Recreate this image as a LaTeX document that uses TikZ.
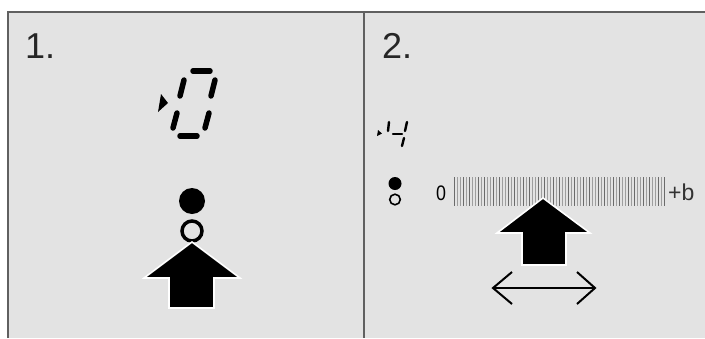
\documentclass[tikz,border=0pt]{standalone}
\usepackage{fontspec}
\setmainfont{Liberation Sans}
\definecolor{panelbg}{HTML}{E3E3E3}
\definecolor{framec}{HTML}{606060}
\begin{document}
\begin{tikzpicture}[x=1pt,y=-1pt,
  seg/.style={line width=5.5pt,line cap=round},
  smallseg/.style={line width=2.4pt,line cap=round},
  bigarrow/.style={fill=black,draw=white,line width=1.6pt,line join=miter},
  frameline/.style={draw=framec,line width=2pt},
  lbl/.style={anchor=base west,inner sep=0pt,font=\fontsize{36}{36}\selectfont,text=black!85}]
\useasboundingbox (0,0) rectangle (705,338);
\fill[white] (0,0) rectangle (705,338);
\fill[panelbg] (8,12) rectangle (705,338);
\draw[frameline] (8,338) -- (8,12) -- (705,12);
\draw[frameline] (364,12) -- (364,338);
% labels
\node[lbl] (l1) at (25,58) {1.};
\node[lbl] (l2) at (382,58) {2.};
% big seven-segment 0
\draw[seg] (193,71) -- (210,71);
\draw[seg] (184,80) -- (180,96);
\draw[seg] (215,80) -- (211,96);
\draw[seg] (177,113) -- (173,128);
\draw[seg] (209,113) -- (205,128);
\draw[seg] (180,136) -- (197,136);
\fill (161,94) -- (168,103) -- (158,112) -- cycle;
% panel 1 circles and arrow
\fill (192,201) circle (13);
\draw[line width=3.5pt] (192,231) circle (10);
\draw[bigarrow] (192,242) -- (240,278) -- (214,278) -- (214,308) -- (169,308) -- (169,278) -- (144,278) -- cycle;
% small seven-segment 4
\draw[smallseg] (389,122) -- (388,131);
\draw[smallseg] (407,122) -- (405,131);
\draw[smallseg] (393,134) -- (402,134);
\draw[smallseg] (404,138) -- (402,146);
\fill (378,130) -- (382,133.5) -- (377,136) -- cycle;
% panel 2 circles
\fill (395,183.5) circle (6.5);
\draw[line width=1.6pt] (395,199.5) circle (5.3);
% scale
\node[anchor=base west,inner sep=0pt,font=\fontsize{21}{21}\selectfont,xscale=0.85] (zero) at (436,200) {0};
\foreach \i in {0,...,70}{
  \pgfmathtruncatemacro{\m}{mod(\i*7,5)}
  \ifnum\m<2
    \draw[black!58,line width=1.3pt] (454.5+\i*3,177) -- (454.5+\i*3,206);
  \else
    \draw[black!38,line width=1.3pt] (454.5+\i*3,177) -- (454.5+\i*3,206);
  \fi
}
\node[anchor=base west,inner sep=0pt,font=\fontsize{23}{23}\selectfont,text=black!80] (plus) at (668,200) {+b};
% panel 2 arrow
\draw[bigarrow] (543,198) -- (590,233) -- (566,233) -- (566,265) -- (522,265) -- (522,233) -- (497,233) -- cycle;
% double arrow
\coordinate (dl) at (493,288);
\coordinate (dr) at (595,288);
\draw[line width=2pt] (dl) -- (dr);
\draw[line width=2pt,line join=miter] (512,272) -- (dl) -- (512,304);
\draw[line width=2pt,line join=miter] (577,272) -- (dr) -- (577,304);
\end{tikzpicture}
\end{document}
